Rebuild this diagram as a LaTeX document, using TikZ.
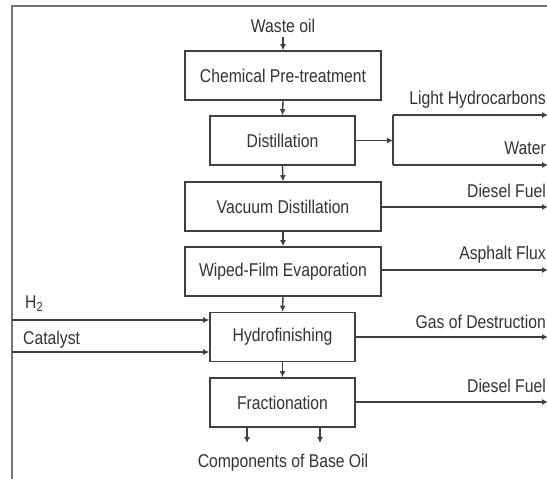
\documentclass[tikz,border=0pt]{standalone}
\usepackage{fontspec}
\setmainfont{Liberation Sans}[FakeStretch=0.85]
\usetikzlibrary{arrows.meta}
\begin{document}
\begin{tikzpicture}[x=1pt,y=-1pt,
  every node/.style={font=\fontsize{18.5}{20}\selectfont, text=black!80, inner sep=0pt},
  procbox/.style={draw=black!75, line width=1.6pt, rectangle, minimum height=49pt},
  wide/.style={procbox, minimum width=196pt},
  narrow/.style={procbox, minimum width=145pt},
  flow/.style={draw=black!75, line width=1.4pt, -{Latex[length=6pt,width=6pt]}},
  plain/.style={draw=black!75, line width=1.4pt},
  lbl/.style={anchor=west},
  rlbl/.style={anchor=east},
  frameline/.style={draw=black!55, line width=2pt}]
\useasboundingbox (0,0) rectangle (547,479);
\fill[white] (0,0) rectangle (547,479);
% outer frame (only top and left visible)
\draw[frameline] (548,6) -- (12,6) -- (12,480);

% main chain
\node (waste) at (283,26) {Waste oil};
\node[wide] (chem) at (283,75.5) {Chemical Pre-treatment};
\node[narrow] (dist) at (282.5,140.5) {Distillation};
\node[wide] (vac) at (283,206.5) {Vacuum Distillation};
\node[wide] (wfe) at (283,271.5) {Wiped-Film Evaporation};
\node[narrow] (hyd) at (282.5,337) {Hydrofinishing};
\node[narrow] (frac) at (282.5,402.5) {Fractionation};
\node (comp) at (283,463) {Components of Base Oil};

\coordinate (wbot) at (283,37);
\draw[flow] (wbot) -- (chem.north);
\draw[flow] (chem.south) -- (dist.north);
\draw[flow] (dist.south) -- (vac.north);
\draw[flow] (vac.south) -- (wfe.north);
\draw[flow] (wfe.south) -- (hyd.north);
\draw[flow] (hyd.south) -- (frac.north);

% bottom outputs
\coordinate (o1) at (247,443);
\coordinate (o2) at (320,443);
\draw[flow] (frac.south -| o1) -- (o1);
\draw[flow] (frac.south -| o2) -- (o2);

% distillation bracket
\coordinate (bm) at (393,140.5);
\coordinate (bt) at (393,115);
\coordinate (bb) at (393,165);
\coordinate (et) at (548,115);
\coordinate (eb) at (548,165);
\draw[flow] (dist.east) -- (bm);
\draw[plain] (bt) -- (bb);
\draw[flow] (bt) -- (et);
\draw[flow] (bb) -- (eb);
\node[rlbl] (lh) at (546,100) {Light Hydrocarbons};
\node[rlbl] (wat) at (546,148) {Water};

% side outputs
\coordinate (e1) at (548,207);
\coordinate (e2) at (548,270);
\coordinate (e3) at (548,337);
\coordinate (e4) at (548,402);
\draw[flow] (vac.east |- e1) -- (e1);
\draw[flow] (wfe.east |- e2) -- (e2);
\draw[flow] (hyd.east |- e3) -- (e3);
\draw[flow] (frac.east |- e4) -- (e4);
\node[rlbl] (df1) at (546,191) {Diesel Fuel};
\node[rlbl] (af) at (546,255) {Asphalt Flux};
\node[rlbl] (gd) at (546,322) {Gas of Destruction};
\node[rlbl] (df2) at (546,386) {Diesel Fuel};

% inputs
\coordinate (h2s) at (12,320);
\coordinate (cas) at (12,352);
\draw[flow] (h2s) -- (hyd.west |- h2s);
\draw[flow] (cas) -- (hyd.west |- cas);
\node[lbl] (h2) at (25,304) {H\textsubscript{2}};
\node[lbl] (cat) at (23,340) {Catalyst};
\end{tikzpicture}
\end{document}
